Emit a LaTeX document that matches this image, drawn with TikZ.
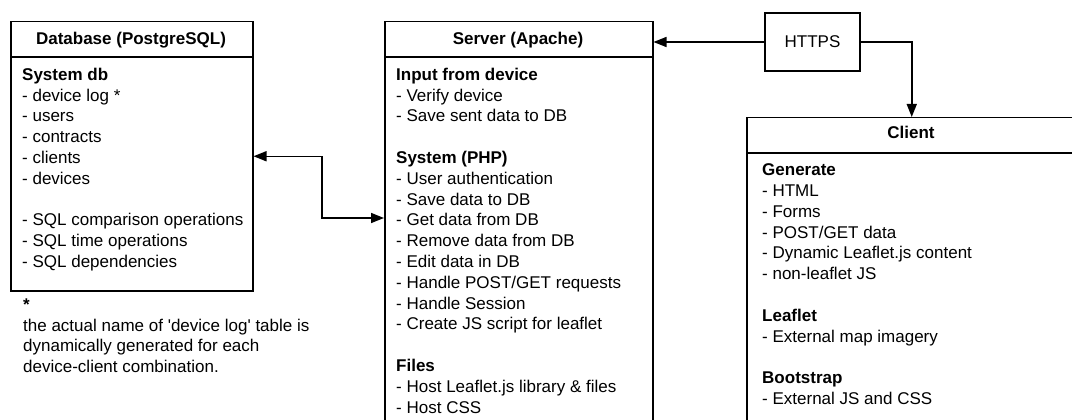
\documentclass[tikz,border=0pt]{standalone}
\usepackage{fontspec}
\newfontfamily\lsans{Liberation Sans}
\usetikzlibrary{arrows.meta}
\begin{document}
\begin{tikzpicture}[x=1pt,y=-1pt,
  box/.style={draw, line width=1.5pt, rectangle, inner sep=0pt, anchor=north west},
  txt/.style={font=\lsans\fontsize{17}{20.8}\selectfont, align=left, inner sep=0pt, anchor=north west},
  head/.style={font=\lsans\bfseries\fontsize{17}{20.8}\selectfont, inner sep=0pt, anchor=base},
  conn/.style={line width=1.5pt},
  tip/.style={-{Triangle[length=13pt,width=10pt]}},
  biarrow/.style={{Triangle[length=13pt,width=10pt]}-{Triangle[length=13pt,width=10pt]}},
  divider/.style={line width=1.5pt}
]
\useasboundingbox (0,0) rectangle (1072,420);
\clip (0,0) rectangle (1072,420);
% Database
\node[box, minimum width=242pt, minimum height=269pt] (db) at (10,21) {};
\draw[divider] ([yshift=-36pt]db.north west) -- ([yshift=-36pt]db.north east);
\node[head] (dbh) at (131,45) {Database (PostgreSQL)};
\node[txt] (dbt) at (22,66) {\rule{0pt}{14pt}\textbf{System db}\\- device log *\\- users\\- contracts\\- clients\\- devices\\[20.8pt]- SQL comparison operations\\- SQL time operations\\- SQL dependencies};
\node[txt] (note) at (23,296) {\rule{0pt}{14pt}\textbf{*}\\the actual name of 'device log' table is\\dynamically generated for each\\device-client combination.};
% Server
\node[box, minimum width=268pt, minimum height=430pt] (srv) at (384,21) {};
\draw[divider] ([yshift=-36pt]srv.north west) -- ([yshift=-36pt]srv.north east);
\node[head] (srvh) at (518,45) {Server (Apache)};
\node[txt] (srvt) at (396,66) {\rule{0pt}{14pt}\textbf{Input from device}\\- Verify device\\- Save sent data to DB\\[20.8pt]\textbf{System (PHP)}\\- User authentication\\- Save data to DB\\- Get data from DB\\- Remove data from DB\\- Edit data in DB\\- Handle POST/GET requests\\- Handle Session\\- Create JS script for leaflet\\[20.8pt]\textbf{Files}\\- Host Leaflet.js library \& files\\- Host CSS};
% Client
\node[box, minimum width=330pt, minimum height=340pt] (cli) at (746,117) {};
\draw[divider] ([yshift=-36pt]cli.north west) -- ([yshift=-36pt]cli.north east);
\node[head] (clih) at (911,139) {Client};
\node[txt] (clit) at (762,161.5) {\rule{0pt}{14pt}\textbf{Generate}\\- HTML\\- Forms\\- POST/GET data\\- Dynamic Leaflet.js content\\- non-leaflet JS\\[20.8pt]\textbf{Leaflet}\\- External map imagery\\[20.8pt]\textbf{Bootstrap}\\- External JS and CSS};
% HTTPS
\node[draw, line width=1.5pt, minimum width=95pt, minimum height=58pt, inner sep=0pt, font=\lsans\fontsize{17}{20.8}\selectfont] (https) at (812.5,42) {HTTPS};
% connectors
\coordinate (bend) at (322,218);
\draw[conn, biarrow] (db.east) -| (bend) -- (srv.west |- bend);
\draw[conn, tip] (https.west) -- (srv.east |- https.west);
\draw[conn, tip] (https.east) -| (cli.north);
\end{tikzpicture}
\end{document}
